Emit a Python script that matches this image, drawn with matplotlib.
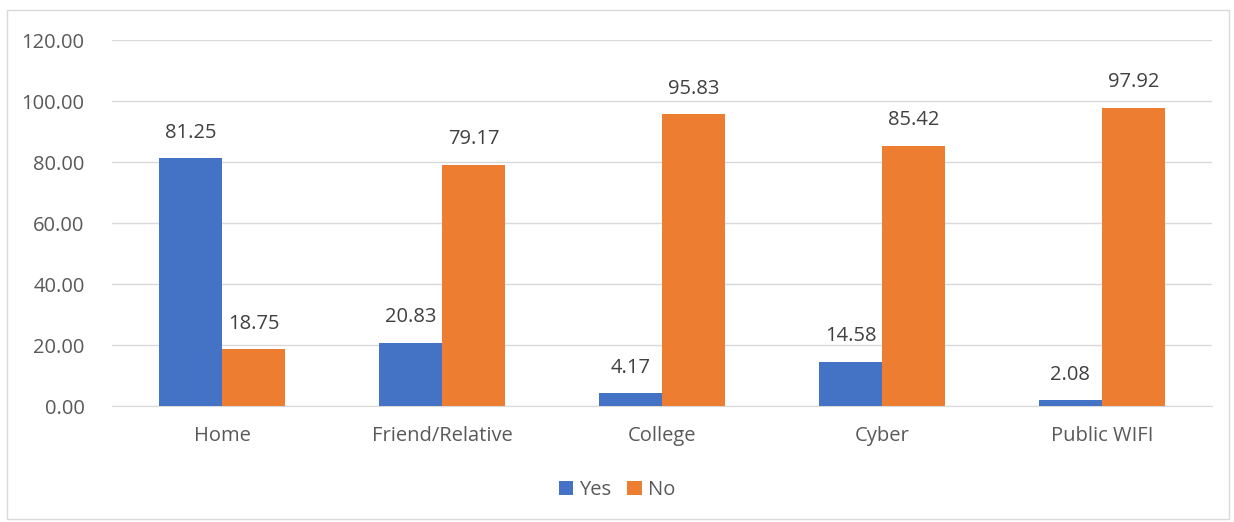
import numpy as np
import matplotlib.pyplot as plt
from matplotlib.patches import Rectangle

categories = ["Home", "Friend/Relative", "College", "Cyber", "Public WIFI"]
yes_vals = [81.25, 20.83, 4.17, 14.58, 2.08]
no_vals = [18.75, 79.17, 95.83, 85.42, 97.92]

blue = "#4472C4"
orange = "#ED7D31"

plt.rcParams['font.family'] = ['Open Sans', 'DejaVu Sans']

fig = plt.figure(figsize=(12.34, 5.22), dpi=100)
ax = fig.add_axes([0.091, 0.222, 0.891, 0.701])

x = np.arange(len(categories))
w = 0.286
b1 = ax.bar(x - w/2, yes_vals, w, color=blue, label="Yes", zorder=3)
b2 = ax.bar(x + w/2, no_vals, w, color=orange, label="No", zorder=3)

fs = 14.5
for bars in (b1, b2):
    for r in bars:
        ax.text(r.get_x() + r.get_width()/2, r.get_height() + 5, f"{r.get_height():.2f}",
                ha="center", va="bottom", fontsize=fs, color="#404040")

ax.set_ylim(0, 120)
ax.set_yticks(np.arange(0, 121, 20))
ax.set_yticklabels([f"{v:.2f}" for v in np.arange(0, 121, 20)])
ax.set_xlim(-0.5, len(categories) - 0.5)
ax.set_xticks(x)
ax.set_xticklabels(categories)
ax.tick_params(axis="both", length=0, labelsize=fs, colors="#595959")
ax.tick_params(axis="x", pad=14)
ax.tick_params(axis="y", pad=20)
ax.yaxis.grid(True, color="#D9D9D9", linewidth=1, zorder=0)
for s in ["top", "right", "left"]:
    ax.spines[s].set_visible(False)
ax.spines["bottom"].set_color("#D9D9D9")

leg = fig.legend(handles=[b1, b2], loc="center", bbox_to_anchor=(0.5, 0.062), ncol=2,
                 frameon=False, fontsize=fs, handlelength=0.7, handleheight=0.7,
                 columnspacing=0.8, handletextpad=0.3)
for t in leg.get_texts():
    t.set_color("#595959")

fig.patches.append(Rectangle((0.006, 0.005), 0.99, 0.975, transform=fig.transFigure,
                             fill=False, edgecolor="#D9D9D9", linewidth=1))

fig.savefig("out.png", dpi=100)
